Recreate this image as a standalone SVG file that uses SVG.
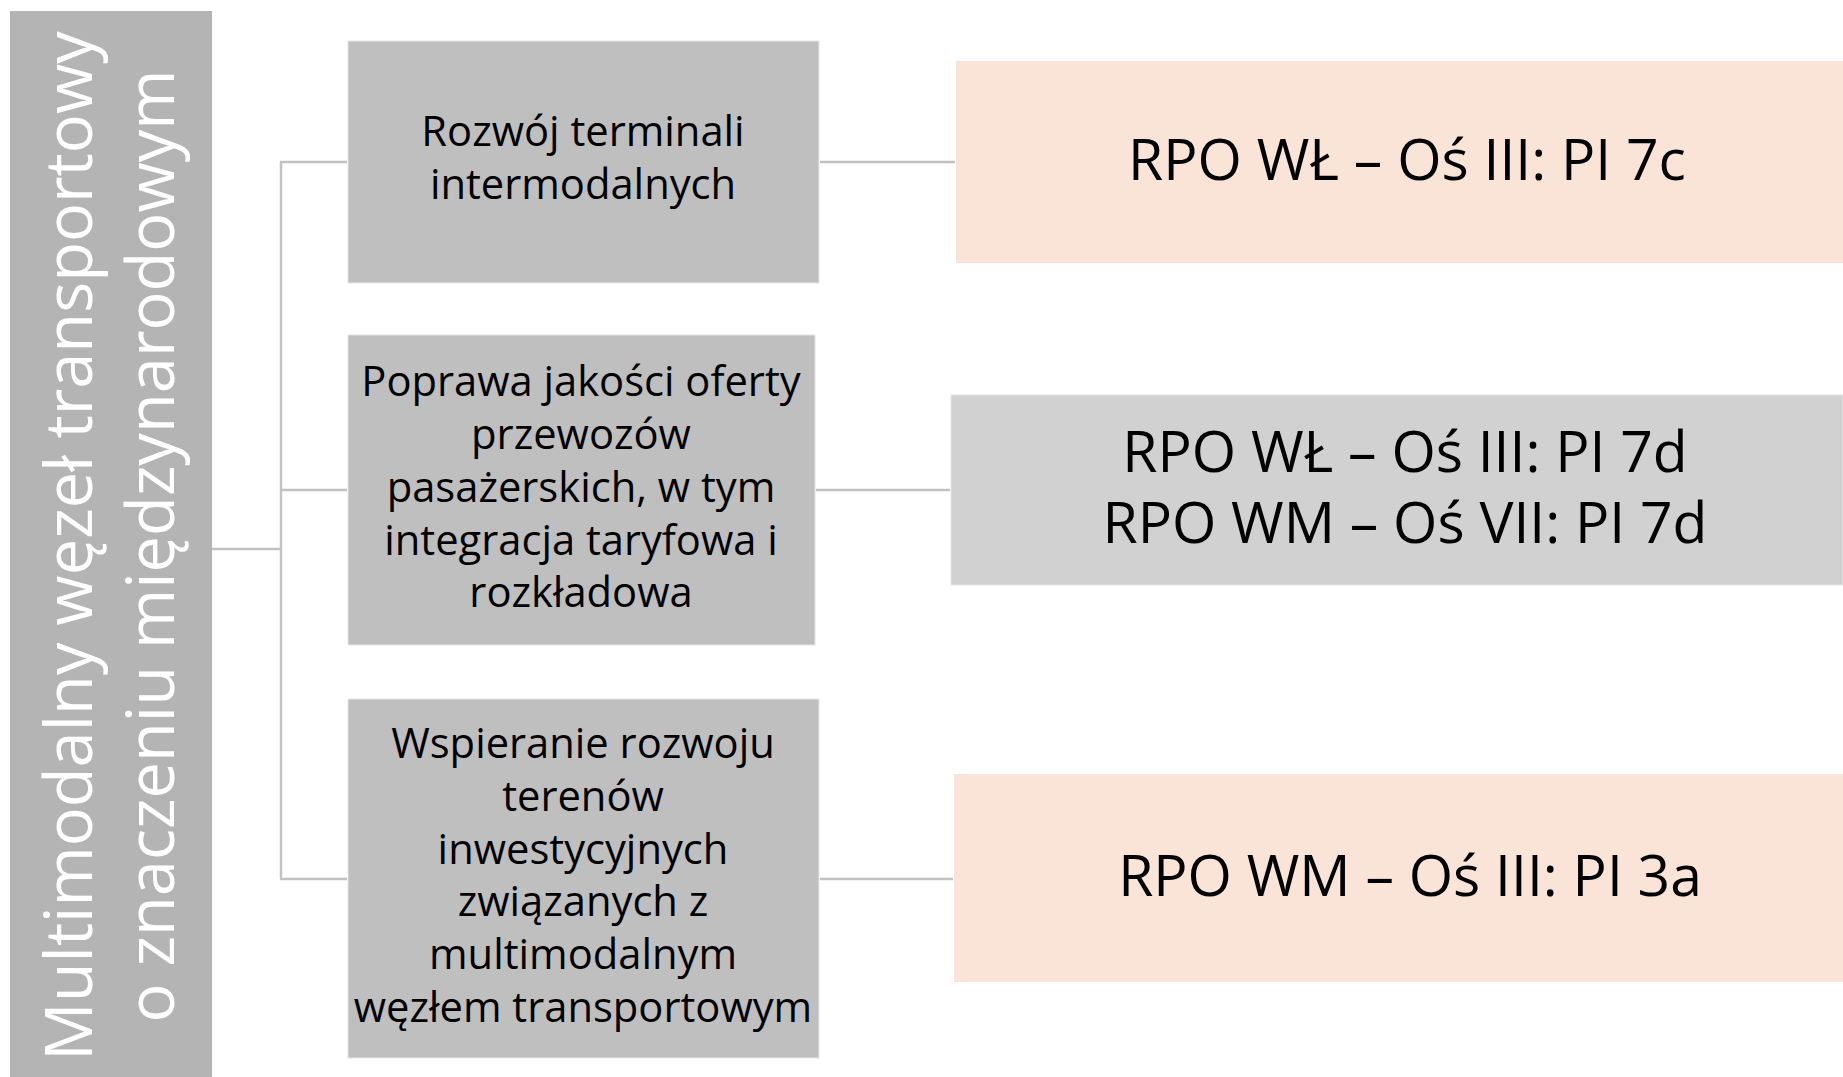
<svg xmlns="http://www.w3.org/2000/svg" width="1843" height="1077" viewBox="0 0 1843 1077">
<style>
.bg{fill:#ffffff}
.left{fill:#b4b4b4}
.mid{fill:#bfbfbf;stroke:#e6e6e6;stroke-width:1}
.peach{fill:#fae4d7}
.grey{fill:#d1d1d1;stroke:#e6e6e6;stroke-width:1}
.conn{stroke:#c2c2c2;stroke-width:2.5;fill:none}
.vt{font-family:"Open Sans","Noto Sans",sans-serif;font-size:65px;fill:#ffffff;text-anchor:middle}
.bt{font-family:"Open Sans","Noto Sans",sans-serif;font-size:41.7px;fill:#000000;text-anchor:middle}
.rt{font-family:"Open Sans","Noto Sans",sans-serif;font-size:57px;fill:#000000;text-anchor:middle}
</style>
<rect class="bg" x="0" y="0" width="1843" height="1077"/>
<g id="connectors">
<line class="conn" x1="212" y1="549" x2="281" y2="549"/>
<line class="conn" x1="281" y1="162" x2="281" y2="879"/>
<line class="conn" x1="280" y1="162" x2="347" y2="162"/>
<line class="conn" x1="280" y1="490" x2="347" y2="490"/>
<line class="conn" x1="280" y1="879" x2="347" y2="879"/>
<line class="conn" x1="820" y1="162" x2="955" y2="162"/>
<line class="conn" x1="816" y1="490" x2="950" y2="490"/>
<line class="conn" x1="820" y1="879" x2="953" y2="879"/>
</g>
<g id="root">
<rect class="left" x="10" y="11" width="202" height="1066"/>
<g transform="rotate(-90)">
<text class="vt" x="-546" y="92">Multimodalny węzeł transportowy</text>
<text class="vt" x="-546" y="174">o znaczeniu międzynarodowym</text>
</g>
</g>
<g id="node1">
<rect class="mid" x="348" y="41" width="471" height="242"/>
<text class="bt" x="583" y="146">Rozwój terminali</text>
<text class="bt" x="583" y="199">intermodalnych</text>
</g>
<g id="node2">
<rect class="mid" x="348" y="335" width="467" height="310"/>
<text class="bt" x="581" y="396">Poprawa jakości oferty</text>
<text class="bt" x="581" y="449">przewozów</text>
<text class="bt" x="581" y="502">pasażerskich, w tym</text>
<text class="bt" x="581" y="555">integracja taryfowa i</text>
<text class="bt" x="581" y="607">rozkładowa</text>
</g>
<g id="node3">
<rect class="mid" x="348" y="699" width="471" height="359"/>
<text class="bt" x="583" y="758">Wspieranie rozwoju</text>
<text class="bt" x="583" y="811">terenów</text>
<text class="bt" x="583" y="864">inwestycyjnych</text>
<text class="bt" x="583" y="916">związanych z</text>
<text class="bt" x="583" y="969">multimodalnym</text>
<text class="bt" x="583" y="1022">węzłem transportowym</text>
</g>
<g id="rpo1">
<rect class="peach" x="956" y="61" width="887" height="202"/>
<text class="rt" x="1407" y="180">RPO WŁ – Oś III: PI 7c</text>
</g>
<g id="rpo2">
<rect class="grey" x="951" y="395" width="892" height="190"/>
<text class="rt" x="1405" y="472">RPO WŁ – Oś III: PI 7d</text>
<text class="rt" x="1405" y="543">RPO WM – Oś VII: PI 7d</text>
</g>
<g id="rpo3">
<rect class="peach" x="954" y="774" width="889" height="208"/>
<text class="rt" x="1410" y="896">RPO WM – Oś III: PI 3a</text>
</g>
</svg>
